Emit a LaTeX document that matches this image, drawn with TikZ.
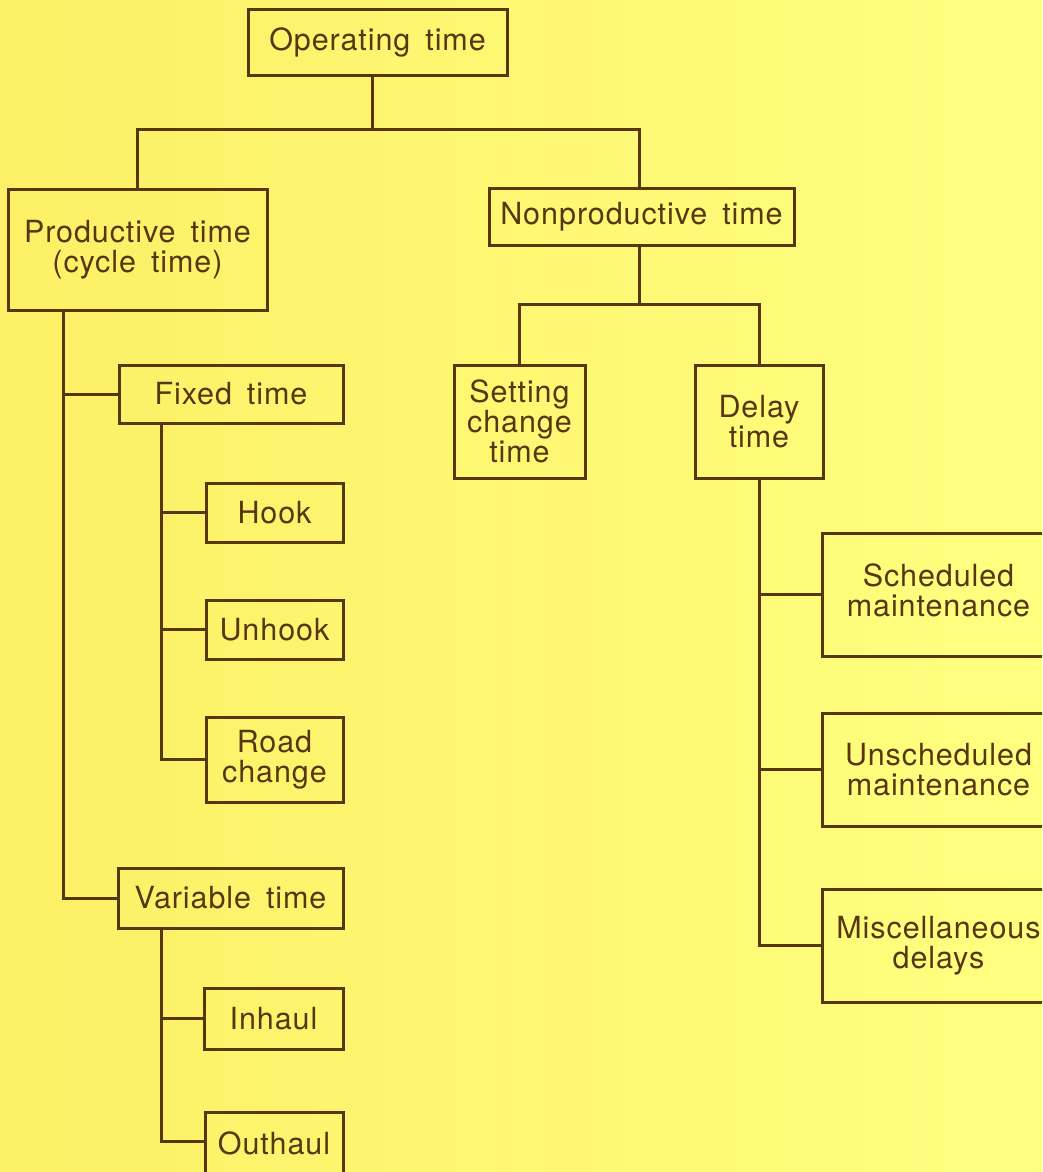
\documentclass[tikz,border=0pt]{standalone}
\usepackage{fontspec}
\setmainfont{TeX Gyre Heros}[LetterSpace=3,WordSpace=1.6]
\definecolor{bgL}{RGB}{252,240,102}
\definecolor{bgM}{RGB}{255,249,114}
\definecolor{bgR}{RGB}{255,255,128}
\definecolor{ink}{RGB}{88,54,16}
\begin{document}
\begin{tikzpicture}[x=1pt,y=-1pt,
  box/.style={draw=ink, line width=3pt, inner sep=0pt, align=center,
    text=ink, font=\fontsize{30.5}{30}\selectfont},
  conn/.style={draw=ink, line width=3pt}]
\useasboundingbox (0,0) rectangle (1042,1172);
\shade[left color=bgL, middle color=bgM, right color=bgR, shading angle=90] (0,0) rectangle (1042,1172);
\clip (0,0) rectangle (1042,1172);
% nodes
\node[box, minimum width=259, minimum height=65] (op) at (377.5,42.5) {Operating time};
\node[box, minimum width=259, minimum height=121] (prod) at (137.5,249.5) {Productive time\\(cycle time)};
\node[box, minimum width=305, minimum height=57] (nonp) at (641.5,216.5) {Nonproductive time};
\node[box, minimum width=131, minimum height=113] (set) at (519.5,421.5) {Setting\\change\\time};
\node[box, minimum width=128, minimum height=113] (delay) at (759,421.5) {Delay\\time};
\node[box, minimum width=224, minimum height=58] (fixed) at (231,394) {Fixed time};
\node[box, minimum width=137, minimum height=59] (hook) at (274.5,512.5) {Hook};
\node[box, minimum width=137, minimum height=59] (unhook) at (274.5,629.5) {Unhook};
\node[box, minimum width=137, minimum height=85] (road) at (274.5,759.5) {Road\\change};
\node[box, minimum width=225, minimum height=60] (var) at (230.5,898) {Variable time};
\node[box, minimum width=139, minimum height=61] (inhaul) at (273.5,1018.5) {Inhaul};
\node[box, minimum width=138, minimum height=68] (outhaul) at (274,1146) {\raisebox{5pt}{Outhaul}};
\node[box, minimum width=233, minimum height=123] (sched) at (938.5,594.5) {\raisebox{6pt}{\begin{tabular}{@{}c@{}}Scheduled\\maintenance\end{tabular}}};
\node[box, minimum width=233, minimum height=113] (unsched) at (938.5,769.5) {Unscheduled\\maintenance};
\node[box, minimum width=233, minimum height=113] (misc) at (938.5,945.5) {Miscellaneous\\delays};
% junction helpers
\coordinate (j1) at (372,129);
\coordinate (j2) at (639,304);
\coordinate (pstem) at (63,0);
\coordinate (fstem) at (161,0);
% connectors
\draw[conn] (op.south -| j1) -- (j1);
\draw[conn] (prod.north) |- (j1) -| (nonp.north -| j2);
\draw[conn] (nonp.south -| j2) -- (j2);
\draw[conn] (set.north) |- (j2) -| (delay.north);
\draw[conn] (prod.south -| pstem) |- (var.west);
\draw[conn] (pstem |- fixed.west) -- (fixed.west);
\draw[conn] (fixed.south -| fstem) |- (road.west);
\draw[conn] (fstem |- hook.west) -- (hook.west);
\draw[conn] (fstem |- unhook.west) -- (unhook.west);
\draw[conn] (var.south -| fstem) |- ([yshift=5pt]outhaul.west);
\draw[conn] (fstem |- inhaul.west) -- (inhaul.west);
\draw[conn] (delay.south) |- (misc.west);
\draw[conn] (delay.south |- sched.west) -- (sched.west);
\draw[conn] (delay.south |- unsched.west) -- (unsched.west);
\end{tikzpicture}
\end{document}
